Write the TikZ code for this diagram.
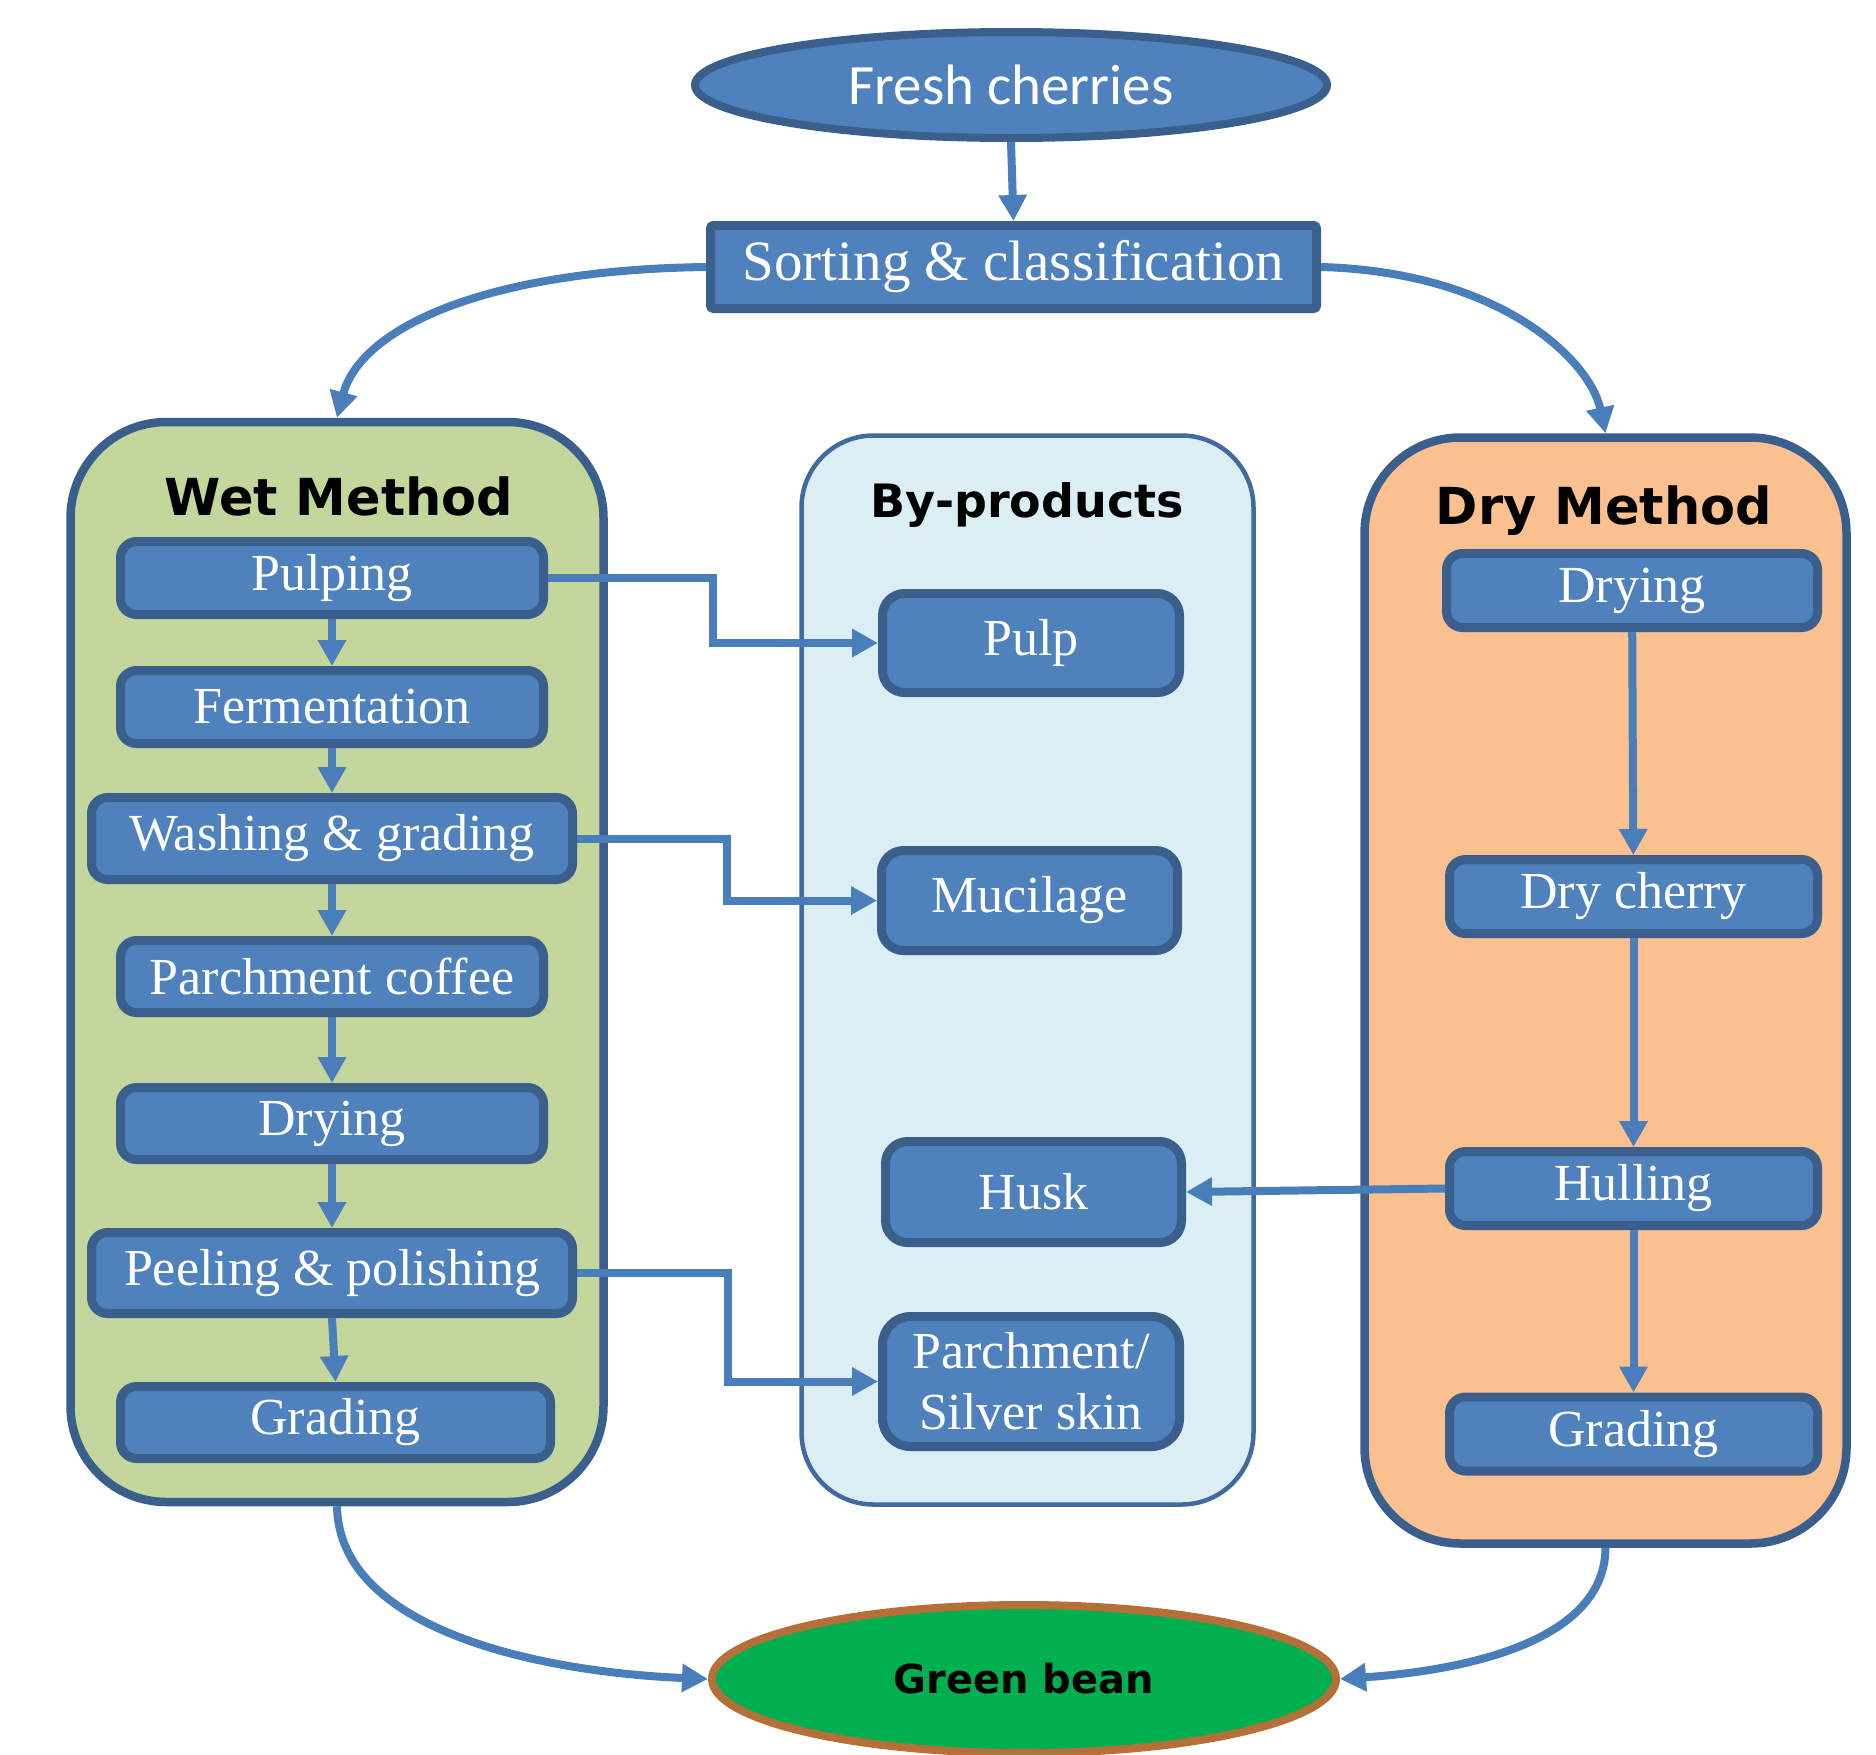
\documentclass[tikz,border=0pt]{standalone}
\usepackage{fontspec}
\setmainfont{Liberation Serif}
\newfontfamily\calfont{Carlito}
\newfontfamily\hdrfont{DejaVu Sans}
\usetikzlibrary{arrows.meta,calc,shapes.geometric}
\definecolor{boxfill}{HTML}{4F81BD}
\definecolor{boxline}{HTML}{3A5F8D}
\definecolor{arrowc}{HTML}{4A7EBB}
\definecolor{wetfill}{HTML}{C3D69B}
\definecolor{dryfill}{HTML}{FAC090}
\definecolor{byfill}{HTML}{DBEEF4}
\definecolor{byline}{HTML}{416A9E}
\definecolor{beanfill}{HTML}{00B050}
\definecolor{beanline}{HTML}{B5703A}
\tikzset{
  stepbox/.style={draw=boxline, fill=boxfill, line width=9pt, rounded corners=16pt,
    text=white, font=\fontsize{52}{61}\selectfont, inner sep=0pt, align=center},
  groupbox/.style={draw=boxline, line width=8.5pt, rounded corners=96pt, inner sep=0pt},
  title/.style={font=\hdrfont\bfseries\fontsize{51}{60}\selectfont, text=black, inner sep=0pt},
  conn/.style={draw=arrowc, line width=8pt, -{Triangle[length=26pt,width=27pt]}},
  thin conn/.style={draw=arrowc, line width=8pt, -{Triangle[length=26pt,width=27pt]}},
}
\begin{document}
\begin{tikzpicture}[x=1pt,y=-1pt]
\useasboundingbox (0,0) rectangle (1876,1754);
% containers
\node[groupbox, fill=wetfill, minimum width=533, minimum height=1080] (wet) at (337,962) {};
\node[draw=byline, fill=byfill, line width=4.5pt, rounded corners=72pt, minimum width=452, minimum height=1069, inner sep=0pt] (byp) at (1027.5,970) {};
\node[groupbox, fill=dryfill, minimum width=482, minimum height=1106] (dry) at (1605.5,990.5) {};
\node[title] (wettitle) at (339,496) {Wet Method};
\node[title, font=\hdrfont\bfseries\fontsize{46}{55}\selectfont] (bytitle) at (1027,505) {By-products};
\node[title] (drytitle) at (1604,511) {Dry Method};
% top
\node[ellipse, draw=boxline, fill=boxfill, line width=8pt, minimum width=632, minimum height=106, inner sep=0pt,
  text=white, font=\calfont\fontsize{57}{66}\selectfont] (fresh) at (1011,85) {Fresh cherries};
\node[stepbox, rounded corners=3pt, minimum width=606, minimum height=83, font=\fontsize{57}{66}\selectfont] (sort) at (1013.5,267) {Sorting \& classification};
% wet steps
\node[stepbox, minimum width=423, minimum height=73] (pulping) at (332,578) {Pulping};
\node[stepbox, minimum width=423, minimum height=73] (ferm) at (332,707) {Fermentation};
\node[stepbox, minimum width=481, minimum height=82] (wash) at (332,838.5) {Washing \& grading};
\node[stepbox, minimum width=423, minimum height=72] (parch) at (332,976.5) {Parchment coffee};
\node[stepbox, minimum width=423, minimum height=72] (wdry) at (332,1123.5) {Drying};
\node[stepbox, minimum width=481, minimum height=81] (peel) at (332,1273) {Peeling \& polishing};
\node[stepbox, minimum width=430, minimum height=72] (wgrad) at (335.5,1422.5) {Grading};
% by-products
\node[stepbox, minimum width=297, minimum height=99, rounded corners=22pt] (pulp) at (1031,643) {Pulp};
\node[stepbox, minimum width=296, minimum height=100, rounded corners=22pt] (muc) at (1029.5,900.5) {Mucilage};
\node[stepbox, minimum width=296, minimum height=101, rounded corners=22pt] (husk) at (1033.5,1192) {Husk};
\node[stepbox, minimum width=297, minimum height=130, rounded corners=28pt] (silver) at (1031,1381.5) {Parchment/\\Silver skin};
% dry steps
\node[stepbox, minimum width=371, minimum height=74] (ddry) at (1632,590.5) {Drying};
\node[stepbox, minimum width=368, minimum height=74] (dcher) at (1633.5,896.5) {Dry cherry};
\node[stepbox, minimum width=368, minimum height=74] (hull) at (1633.5,1188.5) {Hulling};
\node[stepbox, minimum width=368, minimum height=74] (dgrad) at (1633.5,1434) {Grading};
% green bean
\node[ellipse, draw=beanline, fill=beanfill, line width=8pt, minimum width=624, minimum height=148, inner sep=0pt,
  font=\hdrfont\bfseries\fontsize{40}{48}\selectfont] (bean) at (1024,1679) {Green bean};
% connectors
\draw[conn] (fresh.south) -- (sort.north);
\draw[conn] (sort.west) .. controls (480,270) and (360,330) .. (wet.north);
\draw[conn] (sort.east) .. controls (1500,272) and (1590,360) .. (dry.north);
\draw[conn] (pulping) -- (ferm);
\draw[conn] (ferm) -- (wash);
\draw[conn] (wash) -- (parch);
\draw[conn] (parch) -- (wdry);
\draw[conn] (wdry) -- (peel);
\draw[conn] (peel.south) -- (wgrad.north);
\draw[thin conn] (pulping.east) -| ($(pulping.east)!0.5!(pulp.west)$) |- (pulp.west);
\draw[thin conn] (wash.east) -| ($(wash.east)!0.5!(muc.west)$) |- (muc.west);
\draw[thin conn] (peel.east) -| ($(peel.east)!0.5!(silver.west)$) |- (silver.west);
\draw[thin conn] (ddry) -- (dcher);
\draw[thin conn] (dcher) -- (hull);
\draw[thin conn] (hull) -- (dgrad);
\draw[thin conn] (hull.west) -- (husk.east);
\draw[conn] (wet.south) .. controls (339,1630) and (540,1672) .. (bean.west);
\draw[conn] (dry.south) .. controls (1605,1640) and (1470,1670) .. (bean.east);
\end{tikzpicture}
\end{document}
